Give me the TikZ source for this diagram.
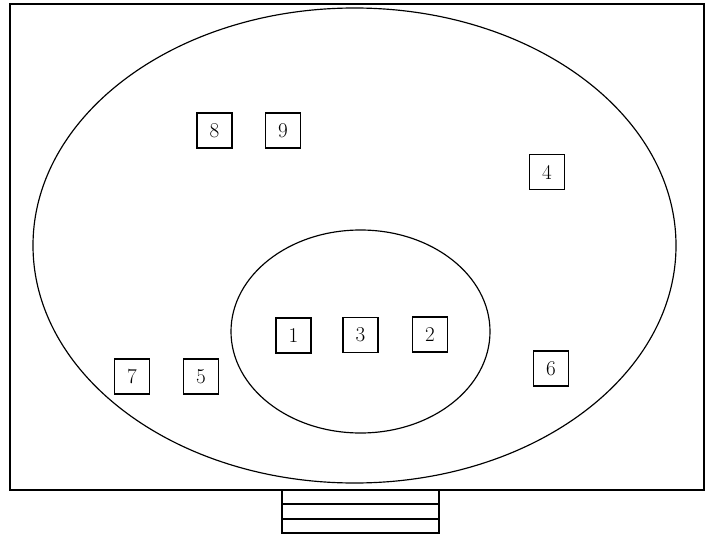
\documentclass[tikz,border=0pt]{standalone}
\usepackage{tikz}
\usetikzlibrary{positioning}

\begin{document}
\begin{tikzpicture}[
    x=0.03cm, y=-0.03cm,
    wall/.style={draw, line width=1.1pt},
    ring/.style={draw, line width=1pt},
    station/.style={draw, rectangle, line width=0.9pt, minimum size=1.05cm, inner sep=0pt, font=\fontsize{18}{21}\selectfont}
]
\useasboundingbox (0,0) rectangle (705,537);

% hall outline
\draw[wall] (10,4) rectangle (704,490);

% entrance steps
\draw[wall] (282,490) rectangle (439,533);
\draw[wall] (282,504) -- (439,504);
\draw[wall] (282,519) -- (439,519);

% outer and inner rings
\draw[ring] (354.5,245.5) ellipse [x radius=321.5, y radius=237.5];
\draw[ring] (360.5,331.5) ellipse [x radius=129.5, y radius=101.5];

% stations in the inner ring
\node[station] (s1) at (293.5,335.5) {1};
\node[station] (s3) at (360.5,335) {3};
\node[station] (s2) at (430,334.5) {2};

% stations in the outer ring
\node[station] (s8) at (214.5,130.5) {8};
\node[station] (s9) at (283,130.5) {9};
\node[station] (s4) at (547,172) {4};
\node[station] (s6) at (551,368.5) {6};
\node[station] (s7) at (132,376.5) {7};
\node[station] (s5) at (201,376.5) {5};

\end{tikzpicture}
\end{document}
